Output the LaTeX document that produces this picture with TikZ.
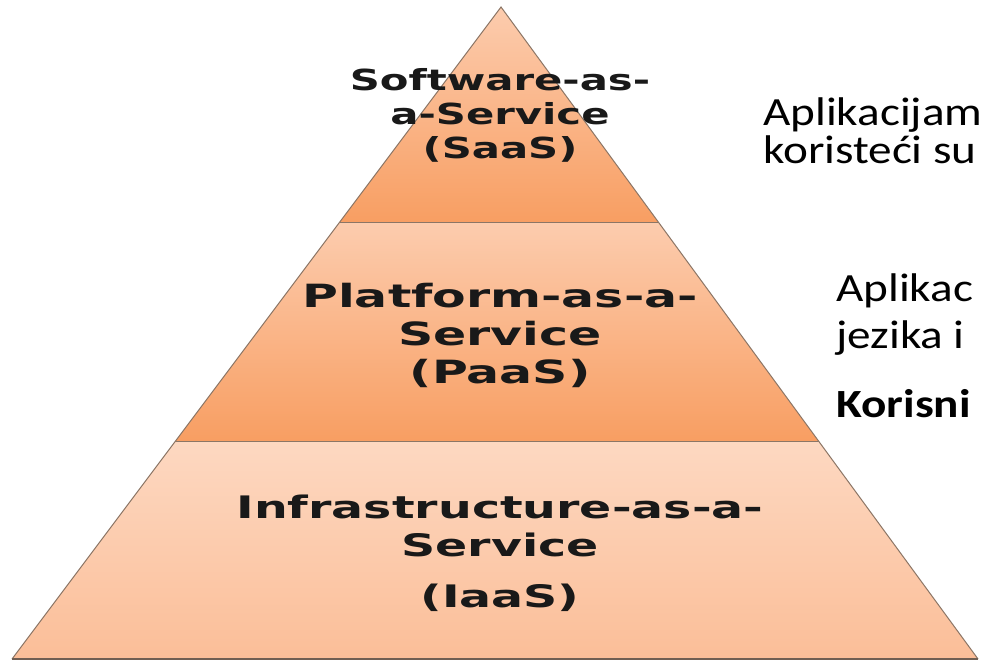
\documentclass[tikz,border=0pt]{standalone}
\usepackage{fontspec}
\newfontfamily\topfont[FakeStretch=1.44]{DejaVu Sans Bold}
\newfontfamily\layerfont[FakeStretch=1.53]{DejaVu Sans Bold}
\newfontfamily\notefont[FakeStretch=1.18]{Carlito}
\newfontfamily\notebold[FakeStretch=1.18]{Carlito Bold}
\usetikzlibrary{calc}
\definecolor{peach}{RGB}{252,204,174}
\definecolor{peachlight}{RGB}{253,216,193}
\definecolor{peachmid}{RGB}{251,190,152}
\definecolor{orangedark}{RGB}{248,158,98}
\definecolor{edgegray}{RGB}{140,118,102}
\begin{document}
\begin{tikzpicture}[x=1pt, y=-1pt,
    lbl/.style={font=\layerfont\fontsize{32}{32}\selectfont, text=black!90, anchor=base, inner sep=0pt},
    note/.style={font=\notefont\fontsize{40}{40}\selectfont, anchor=base west, inner sep=0pt},
    edge/.style={draw=edgegray, line width=1pt}]
  \useasboundingbox[fill=white] (0,0) rectangle (981,663);
  % pyramid
  \coordinate (top) at (501,7);
  \coordinate (bl) at (12,659);
  \coordinate (br) at (978,659);
  \coordinate (l1) at ($(top)!.331!(bl)$);
  \coordinate (r1) at ($(top)!.331!(br)$);
  \coordinate (l2) at ($(top)!.666!(bl)$);
  \coordinate (r2) at ($(top)!.666!(br)$);
  \shade[top color=peach, bottom color=orangedark] (top) -- (r1) -- (l1) -- cycle;
  \shade[top color=peach, bottom color=orangedark] (l1) -- (r1) -- (r2) -- (l2) -- cycle;
  \shade[top color=peachlight, bottom color=peachmid] (l2) -- (r2) -- (br) -- (bl) -- cycle;
  \draw[edge] (bl) -- (top) -- (br);
  \draw[edge] (l1) -- (r1);
  \draw[edge] (l2) -- (r2);
  \draw[edgegray!80!black, line width=2.5pt] (bl) -- (br);
  % layer names
  \foreach \y/\t [count=\i] in {91/Software-as-, 125/a-Service, 159/(SaaS)}
    \node[lbl, font=\topfont\fontsize{29}{29}\selectfont] (saas\i) at (500,\y) {\t};
  \foreach \y/\t [count=\i] in {307/Platform-as-a-, 345/Service, 383/(PaaS)}
    \node[lbl] (paas\i) at (500,\y) {\t};
  \foreach \y/\t [count=\i] in {518/Infrastructure-as-a-, 556/Service, 607/(IaaS)}
    \node[lbl, font=\layerfont\fontsize{31}{31}\selectfont] (iaas\i) at (500,\y) {\t};
  % notes on the right
  \node[note] (saasnote1) at (763,126) {Aplikacijam};
  \node[note] (saasnote2) at (763,164) {koristeći su};
  \node[note] (paasnote1) at (836,301) {Aplikac};
  \node[note] (paasnote2) at (836,348) {jezika i};
  \node[note, font=\notebold\fontsize{40}{40}\selectfont] (paasnote3) at (836,417) {Korisni};
\end{tikzpicture}
\end{document}
